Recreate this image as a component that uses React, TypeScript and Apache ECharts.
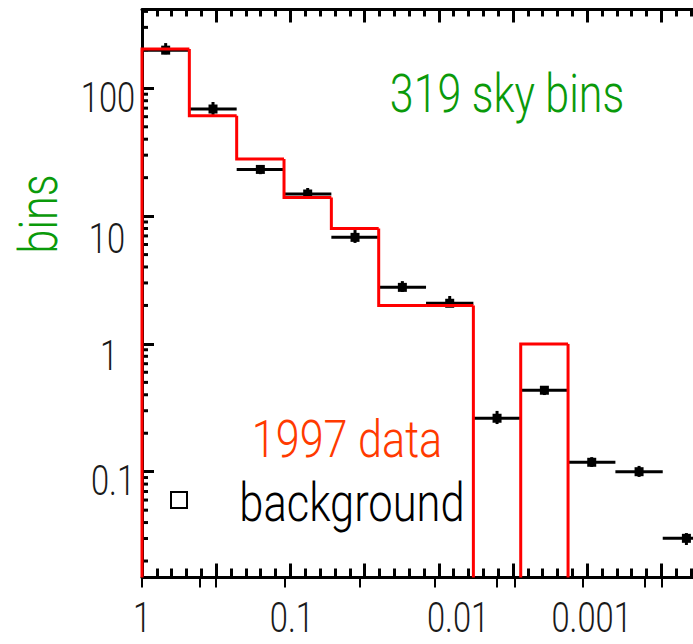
import React, { useEffect, useRef } from 'react';
import * as echarts from 'echarts';

// ---- data ----
// bin edges along the (reversed, log-probability) x axis, in axis units
const binEdges = [0, 0.319, 0.638, 0.957, 1.276, 1.595, 1.914, 2.233, 2.552, 2.871, 3.19, 3.509, 3.828];
// red histogram: 1997 data
const data1997 = [203, 61, 28, 14, 8, 2, 2, 0, 1, 0, 0, 0];
// black points: background
const bgValues = [199, 68.9, 23.2, 14.9, 6.82, 2.77, 2.08, 0.262, 0.434, 0.1185, 0.1, 0.0301];
const bgErrLow = [185, 61.8, 21.3, 14.1, 6.17, 2.55, 1.95, 0.236, 0.398, 0.109, 0.091, 0.0267];
const bgErrHigh = [226, 78.2, 25.1, 16.6, 7.78, 3.1, 2.37, 0.299, 0.46, 0.13, 0.111, 0.0331];
// axis labels
const xTickValues = [0, 1.01, 2.13, 3.03];
const xTickLabels = ['1', '0.1', '0.01', '0.001'];
const yTickValues = [0.1, 1, 10, 100];
const yTickLabels = ['0.1', '1', '10', '100'];
const yMinorValues = [
  0.02, 0.03, 0.04, 0.05, 0.06, 0.07, 0.08, 0.09,
  0.2, 0.3, 0.4, 0.5, 0.6, 0.7, 0.8, 0.9,
  2, 3, 4, 5, 6, 7, 8, 9,
  20, 30, 40, 50, 60, 70, 80, 90,
  200, 300, 400,
];
const bottomStubs = [0, 0.391, 0.499, 0.964, 1.469, 1.974, 2.392, 2.513, 2.972, 3.389, 3.504];
const xMin = 0;
const xMax = 4;
const yMin = 0.01486;
const yMax = 414;

// ---- styles ----
const FONT = "Roboto, 'Liberation Sans', sans-serif";
const GREEN = '#0a9a0a';
const ORANGE = '#ff3a00';
const RED = '#ff0000';
const INK = '#1a1a1a';
const CHART_W = 780;
const CHART_H = 644;
const LABEL_SCALE = 0.76;
const TITLE_SCALE = 0.81;
// per-label nudges of the y tick labels [dx, dy] (0.1, 1, 10, 100)
const yLabelNudge = [
  [4, 9],
  [0, 11],
  [-2, 22],
  [-1, 9],
];

export default function App() {
  const ref = useRef<HTMLDivElement>(null);

  useEffect(() => {
    if (!ref.current) return;
    const chart = echarts.init(ref.current, undefined, { renderer: 'svg' });

    const axisCommon = {
      type: 'value',
      min: xMin,
      max: xMax,
      interval: 0.5,
      splitLine: { show: false },
      axisLabel: { show: false },
      axisLine: { show: true, lineStyle: { color: '#000', width: 3 } },
    };

    const tickText = (text: string, x: number, y: number) => ({
      type: 'text',
      x,
      y,
      scaleX: LABEL_SCALE,
      style: {
        text,
        fontFamily: FONT,
        fontWeight: 300,
        fontSize: 43,
        lineHeight: 34,
        fill: INK,
        align: 'center',
        verticalAlign: 'middle',
      },
    });

    const option: any = {
      animation: false,
      backgroundColor: '#fff',
      textStyle: { fontFamily: FONT },
      grid: {
        left: 142,
        top: 9.5,
        right: CHART_W - (142 + 593.6),
        bottom: CHART_H - 577.5,
        containLabel: false,
        outerBoundsMode: 'none',
      },
      xAxis: [
        {
          ...axisCommon,
          position: 'top',
          axisTick: { show: true, inside: true, length: 13, lineStyle: { color: '#000', width: 3 } },
          minorTick: { show: true, splitNumber: 5, length: 7, lineStyle: { color: '#000', width: 3 } },
        },
        {
          ...axisCommon,
          position: 'bottom',
          axisTick: { show: true, inside: true, length: 14, lineStyle: { color: '#000', width: 3 } },
          minorTick: { show: true, splitNumber: 5, length: 9, lineStyle: { color: '#000', width: 3 } },
        },
        {
          type: 'value',
          position: 'bottom',
          min: xMin,
          max: xMax,
          splitLine: { show: false },
          axisLine: { show: false },
          axisLabel: { show: false },
          axisTick: {
            show: true,
            inside: false,
            length: 10,
            customValues: bottomStubs,
            lineStyle: { color: '#000', width: 2 },
          },
        },
      ],
      yAxis: {
        type: 'log',
        logBase: 10,
        min: yMin,
        max: yMax,
        splitLine: { show: false },
        axisLine: { show: true, lineStyle: { color: '#000', width: 3 } },
        axisTick: { show: true, inside: true, length: 12, lineStyle: { color: '#000', width: 3 } },
        axisLabel: { show: false },
      },
      series: [
        {
          // log minor ticks on the y axis
          type: 'custom',
          xAxisIndex: 0,
          yAxisIndex: 0,
          data: yMinorValues.map((v) => [xMin, v]),
          encode: { x: 0, y: 1 },
          z: 1,
          silent: true,
          renderItem: (params: any, api: any) => {
            const p = api.coord([api.value(0), api.value(1)]);
            return {
              type: 'line',
              shape: { x1: p[0], y1: p[1], x2: p[0] + 6, y2: p[1] },
              style: { stroke: '#000', lineWidth: 3 },
            };
          },
        },
        {
          // y tick labels
          type: 'custom',
          xAxisIndex: 0,
          yAxisIndex: 0,
          data: yTickValues.map((v) => [xMin, v]),
          encode: { x: 0, y: 1 },
          z: 5,
          silent: true,
          clip: false,
          renderItem: (params: any, api: any) => {
            const p = api.coord([api.value(0), api.value(1)]);
            const i = params.dataIndex;
            const n = yLabelNudge[i];
            return tickText(yTickLabels[i], p[0] - 33 + n[0], p[1] + n[1]);
          },
        },
        {
          // x tick labels
          type: 'custom',
          xAxisIndex: 0,
          yAxisIndex: 0,
          data: xTickValues.map((v) => [v, yMin]),
          encode: { x: 0, y: 1 },
          z: 5,
          silent: true,
          clip: false,
          renderItem: (params: any, api: any) => {
            const p = api.coord([api.value(0), api.value(1)]);
            return tickText(xTickLabels[params.dataIndex], p[0], p[1] + 40);
          },
        },
        {
          name: 'background',
          type: 'custom',
          xAxisIndex: 0,
          yAxisIndex: 0,
          data: bgValues.map((v, i) => [binEdges[i], binEdges[i + 1], v, bgErrLow[i], bgErrHigh[i]]),
          encode: { x: [0, 1], y: [2, 3, 4] },
          z: 3,
          renderItem: (params: any, api: any) => {
            const x0 = api.value(0);
            const x1 = api.value(1);
            const v = api.value(2);
            const lo = api.value(3);
            const hi = api.value(4);
            const xc = (x0 + x1) / 2;
            const pL = api.coord([x0, v]);
            const pR = api.coord([x1, v]);
            const pC = api.coord([xc, v]);
            const pLo = api.coord([xc, lo]);
            const pHi = api.coord([xc, hi]);
            return {
              type: 'group',
              children: [
                { type: 'line', shape: { x1: pL[0], y1: pL[1], x2: pR[0], y2: pR[1] }, style: { stroke: '#000', lineWidth: 3 } },
                { type: 'line', shape: { x1: pC[0], y1: pHi[1], x2: pC[0], y2: pLo[1] }, style: { stroke: '#000', lineWidth: 3 } },
                { type: 'rect', shape: { x: pC[0] - 4.5, y: pC[1] - 4.5, width: 9, height: 9 }, style: { fill: '#000' } },
              ],
            };
          },
        },
        {
          name: '1997 data',
          type: 'custom',
          xAxisIndex: 0,
          yAxisIndex: 0,
          data: data1997.map((v, i) => [binEdges[i], binEdges[i + 1], v, i > 0 ? data1997[i - 1] : 0]),
          encode: { x: [0, 1], y: 2 },
          z: 4,
          renderItem: (params: any, api: any) => {
            const x0 = api.value(0);
            const x1 = api.value(1);
            const v = api.value(2);
            const prev = api.value(3);
            if (!(v > 0) && !(prev > 0)) return null;
            const yv = v > 0 ? v : yMin;
            const yp = prev > 0 ? prev : yMin;
            const pts: number[][] = [api.coord([x0, yp]), api.coord([x0, yv])];
            if (v > 0) pts.push(api.coord([x1, yv]));
            return {
              type: 'polyline',
              shape: { points: pts },
              style: { stroke: RED, lineWidth: 3, fill: 'none', lineJoin: 'miter' },
            };
          },
        },
      ],
      graphic: [
        {
          type: 'text',
          x: 38.5,
          y: 214,
          rotation: Math.PI / 2,
          scaleX: TITLE_SCALE,
          style: { text: 'bins', fontFamily: FONT, fontWeight: 300, fontSize: 53, fill: GREEN, align: 'center', verticalAlign: 'middle' },
          z: 10,
        },
        {
          type: 'text',
          x: 507,
          y: 94,
          scaleX: TITLE_SCALE,
          style: { text: '319 sky bins', fontFamily: FONT, fontWeight: 300, fontSize: 53, fill: GREEN, align: 'center', verticalAlign: 'middle' },
          z: 10,
        },
        {
          type: 'text',
          x: 347,
          y: 440,
          scaleX: 0.83,
          style: { text: '1997 data', fontFamily: FONT, fontWeight: 300, fontSize: 52, fill: ORANGE, align: 'center', verticalAlign: 'middle' },
          z: 10,
        },
        {
          type: 'text',
          x: 352,
          y: 503,
          scaleX: 0.82,
          style: { text: 'background', fontFamily: FONT, fontWeight: 300, fontSize: 53, fill: '#000', align: 'center', verticalAlign: 'middle' },
          z: 10,
        },
        {
          type: 'rect',
          shape: { x: 171, y: 492, width: 16, height: 16 },
          style: { fill: 'none', stroke: '#000', lineWidth: 2 },
          z: 10,
        },
      ],
    };

    chart.setOption(option);
    return () => chart.dispose();
  }, []);

  return (
    <div
      style={{
        position: 'absolute',
        left: 0,
        top: 0,
        width: 693,
        height: 644,
        overflow: 'hidden',
        background: '#fff',
      }}
    >
      <div ref={ref} style={{ width: CHART_W, height: CHART_H }} />
    </div>
  );
}
